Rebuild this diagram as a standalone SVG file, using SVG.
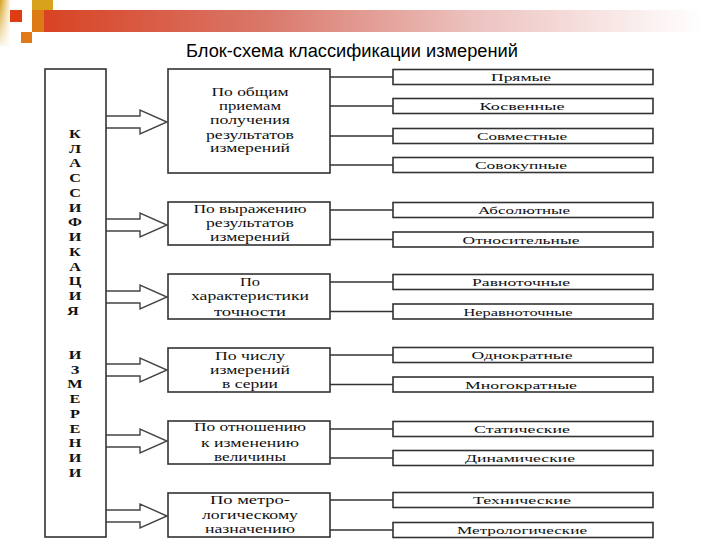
<svg xmlns="http://www.w3.org/2000/svg" width="720" height="540" viewBox="0 0 720 540">
<style>
.box{fill:#fff;stroke:#333;stroke-width:1.6}
.ln{stroke:#333;stroke-width:1.6;fill:none}
.arr{fill:#fff;stroke:#444;stroke-width:1.4;stroke-linejoin:miter}
.mt{font-family:"Liberation Serif","DejaVu Serif",serif;font-size:12px;fill:#111;text-anchor:middle}
.rt{font-family:"Liberation Serif","DejaVu Serif",serif;font-size:11px;fill:#111;text-anchor:middle}
.lt{font-family:"Liberation Serif","DejaVu Serif",serif;font-size:12.5px;font-weight:bold;fill:#111;text-anchor:middle}
.title{font-family:"Liberation Sans",Arial,sans-serif;font-size:18px;fill:#000}
</style>
<defs>
<linearGradient id="bar" x1="0" y1="0" x2="1" y2="0">
<stop offset="0" stop-color="#d8401f"/>
<stop offset="0.35" stop-color="#d9786a"/>
<stop offset="0.65" stop-color="#ecc0bd"/>
<stop offset="1" stop-color="#ffffff"/>
</linearGradient>
<linearGradient id="gold" x1="0" y1="0" x2="1" y2="0">
<stop offset="0" stop-color="#d4a020"/>
<stop offset="1" stop-color="#fff7e0"/>
</linearGradient>
<linearGradient id="goldv" x1="0" y1="0" x2="0" y2="1">
<stop offset="0" stop-color="#ffffff" stop-opacity="0"/>
<stop offset="1" stop-color="#ffffff" stop-opacity="0.9"/>
</linearGradient>
</defs>
<rect width="720" height="540" fill="#fff"/>
<g id="decor">
<rect x="32" y="10" width="670" height="22" fill="url(#bar)"/>
<rect x="0" y="0" width="10" height="46" fill="url(#gold)"/>
<rect x="0" y="0" width="10" height="46" fill="url(#goldv)"/>
<rect x="10" y="10" width="12" height="12" fill="#e03c14"/>
<rect x="32" y="0" width="21" height="10" fill="#d9a21c"/>
<rect x="32" y="10" width="12" height="22" fill="#de7a16"/>
<rect x="21" y="32" width="11" height="11" fill="#e07a18"/>
</g>
<text class="title" x="186" y="57" textLength="332" lengthAdjust="spacingAndGlyphs">Блок-схема классификации измерений</text>
<g id="connectors">
<polyline class="arr" points="106,116 140,116 140,110 167,122 140,134 140,128 106,128"/>
<polyline class="arr" points="106,219 140,219 140,213 167,225 140,237 140,231 106,231"/>
<polyline class="arr" points="106,291 140,291 140,285 167,297 140,309 140,303 106,303"/>
<polyline class="arr" points="106,364 140,364 140,358 167,370 140,382 140,376 106,376"/>
<polyline class="arr" points="106,435 140,435 140,429 167,441 140,453 140,447 106,447"/>
<polyline class="arr" points="106,510 140,510 140,504 167,516 140,528 140,522 106,522"/>
<path class="ln" d="M330,77H393M330,106H393M330,136H393M330,165H393M330,210H393M330,239.5H393M330,282H393M330,311.5H393M330,355H393M330,384.5H393M330,429H393M330,458H393M330,500H393M330,530H393"/>
</g>
<g id="root">
<rect class="box" x="45" y="69" width="61" height="468"/>
<g transform="translate(75,0) scale(1.3,1)">
<text class="lt" x="0">
<tspan x="0" y="138">К</tspan><tspan x="0" y="152.75">Л</tspan><tspan x="0" y="167.5">А</tspan><tspan x="0" y="182.25">С</tspan><tspan x="0" y="197">С</tspan><tspan x="0" y="211.75">И</tspan><tspan x="0" y="226.5">Ф</tspan><tspan x="0" y="241.25">И</tspan><tspan x="0" y="256">К</tspan><tspan x="0" y="270.75">А</tspan><tspan x="0" y="285.5">Ц</tspan><tspan x="0" y="300.25">И</tspan><tspan x="0" y="315">Я</tspan>
<tspan x="0" y="359">И</tspan><tspan x="0" y="373.75">З</tspan><tspan x="0" y="388.5">М</tspan><tspan x="0" y="403.25">Е</tspan><tspan x="0" y="418">Р</tspan><tspan x="0" y="432.75">Е</tspan><tspan x="0" y="447.5">Н</tspan><tspan x="0" y="462.25">И</tspan><tspan x="0" y="477">И</tspan>
</text>
</g>
</g>
<g id="m1">
<rect class="box" x="168" y="69" width="162" height="104"/>
<text class="mt" x="250" y="96" textLength="77" lengthAdjust="spacingAndGlyphs">По общим</text>
<text class="mt" x="250" y="110" textLength="62" lengthAdjust="spacingAndGlyphs">приемам</text>
<text class="mt" x="250" y="124" textLength="80" lengthAdjust="spacingAndGlyphs">получения</text>
<text class="mt" x="250" y="139" textLength="88" lengthAdjust="spacingAndGlyphs">результатов</text>
<text class="mt" x="250" y="152" textLength="80" lengthAdjust="spacingAndGlyphs">измерений</text>
</g>
<g id="m2">
<rect class="box" x="168" y="202" width="162" height="43"/>
<text class="mt" x="250" y="213" textLength="113" lengthAdjust="spacingAndGlyphs">По выражению</text>
<text class="mt" x="250" y="227" textLength="88" lengthAdjust="spacingAndGlyphs">результатов</text>
<text class="mt" x="250" y="241" textLength="80" lengthAdjust="spacingAndGlyphs">измерений</text>
</g>
<g id="m3">
<rect class="box" x="168" y="274" width="162" height="45"/>
<text class="mt" x="250" y="286" textLength="20" lengthAdjust="spacingAndGlyphs">По</text>
<text class="mt" x="250" y="300" textLength="118" lengthAdjust="spacingAndGlyphs">характеристики</text>
<text class="mt" x="250" y="316" textLength="72" lengthAdjust="spacingAndGlyphs">точности</text>
</g>
<g id="m4">
<rect class="box" x="168" y="348" width="162" height="44"/>
<text class="mt" x="250" y="360" textLength="70" lengthAdjust="spacingAndGlyphs">По числу</text>
<text class="mt" x="250" y="374" textLength="80" lengthAdjust="spacingAndGlyphs">измерений</text>
<text class="mt" x="250" y="388" textLength="56" lengthAdjust="spacingAndGlyphs">в серии</text>
</g>
<g id="m5">
<rect class="box" x="168" y="421" width="162" height="43"/>
<text class="mt" x="250" y="431" textLength="112" lengthAdjust="spacingAndGlyphs">По отношению</text>
<text class="mt" x="250" y="447" textLength="98" lengthAdjust="spacingAndGlyphs">к изменению</text>
<text class="mt" x="250" y="461" textLength="72" lengthAdjust="spacingAndGlyphs">величины</text>
</g>
<g id="m6">
<rect class="box" x="168" y="493" width="162" height="44"/>
<text class="mt" x="250" y="504" textLength="80" lengthAdjust="spacingAndGlyphs">По метро-</text>
<text class="mt" x="250" y="519" textLength="96" lengthAdjust="spacingAndGlyphs">логическому</text>
<text class="mt" x="250" y="533" textLength="90" lengthAdjust="spacingAndGlyphs">назначению</text>
</g>
<g id="r1"><rect class="box" x="393" y="69.5" width="260" height="15"/><text class="rt" x="521" y="81" textLength="60" lengthAdjust="spacingAndGlyphs">Прямые</text></g>
<g id="r2"><rect class="box" x="393" y="98.5" width="260" height="15"/><text class="rt" x="522" y="110" textLength="85" lengthAdjust="spacingAndGlyphs">Косвенные</text></g>
<g id="r3"><rect class="box" x="393" y="128.5" width="260" height="15"/><text class="rt" x="522" y="140" textLength="90" lengthAdjust="spacingAndGlyphs">Совместные</text></g>
<g id="r4"><rect class="box" x="393" y="157.5" width="260" height="15"/><text class="rt" x="521" y="169" textLength="92" lengthAdjust="spacingAndGlyphs">Совокупные</text></g>
<g id="r5"><rect class="box" x="393" y="202.5" width="260" height="15"/><text class="rt" x="524" y="214" textLength="92" lengthAdjust="spacingAndGlyphs">Абсолютные</text></g>
<g id="r6"><rect class="box" x="393" y="232" width="260" height="15"/><text class="rt" x="521" y="243.5" textLength="117" lengthAdjust="spacingAndGlyphs">Относительные</text></g>
<g id="r7"><rect class="box" x="393" y="274.5" width="260" height="15"/><text class="rt" x="521" y="286" textLength="98" lengthAdjust="spacingAndGlyphs">Равноточные</text></g>
<g id="r8"><rect class="box" x="393" y="304" width="260" height="15"/><text class="rt" x="518" y="315.5" textLength="109" lengthAdjust="spacingAndGlyphs">Неравноточные</text></g>
<g id="r9"><rect class="box" x="393" y="347.5" width="260" height="15"/><text class="rt" x="522" y="359" textLength="101" lengthAdjust="spacingAndGlyphs">Однократные</text></g>
<g id="r10"><rect class="box" x="393" y="377" width="260" height="15"/><text class="rt" x="521" y="388.5" textLength="112" lengthAdjust="spacingAndGlyphs">Многократные</text></g>
<g id="r11"><rect class="box" x="393" y="421.5" width="260" height="15"/><text class="rt" x="522" y="433" textLength="96" lengthAdjust="spacingAndGlyphs">Статические</text></g>
<g id="r12"><rect class="box" x="393" y="450.5" width="260" height="15"/><text class="rt" x="520" y="462" textLength="110" lengthAdjust="spacingAndGlyphs">Динамические</text></g>
<g id="r13"><rect class="box" x="393" y="492.5" width="260" height="15"/><text class="rt" x="522" y="504" textLength="98" lengthAdjust="spacingAndGlyphs">Технические</text></g>
<g id="r14"><rect class="box" x="393" y="522.5" width="260" height="15"/><text class="rt" x="522" y="534" textLength="130" lengthAdjust="spacingAndGlyphs">Метрологические</text></g>
</svg>
